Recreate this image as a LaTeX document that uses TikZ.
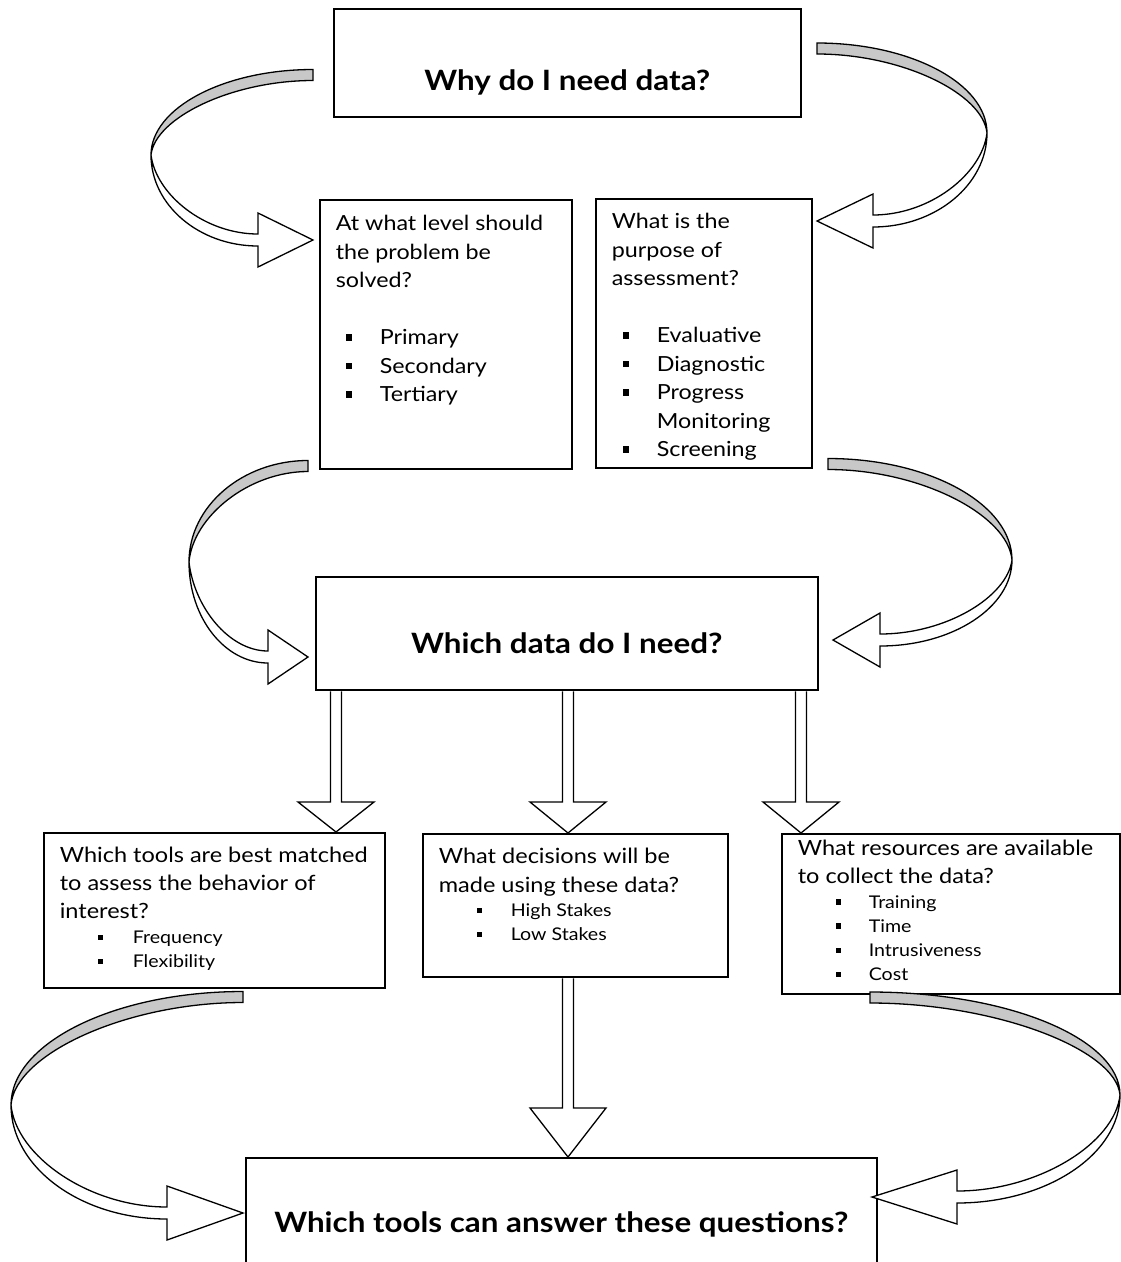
\documentclass[tikz,border=0pt]{standalone}
\usepackage{fontspec}
\setmainfont{Lato}[FakeStretch=1.12]
\usetikzlibrary{calc,positioning}
\definecolor{ribbongray}{RGB}{200,200,200}

% square bullet: indent, label width, item text
\newcommand{\bitem}[3]{\hspace*{#1}\makebox[#2][l]{\rule[0.2em]{0.3em}{0.3em}}#3}
% straight block arrow from #1 down to #2, head length #3
\newcommand{\blockdown}[3]{%
  \draw[blockarrow] let \p1=(#1), \p2=(#2) in
    (\x1-5.5pt,\y1-0.8pt) -- (\x1-5.5pt,\y2+#3) -- (\x1-38pt,\y2+#3) -- (\x1,\y2)
    -- (\x1+38pt,\y2+#3) -- (\x1+5.5pt,\y2+#3) -- (\x1+5.5pt,\y1-0.8pt);}

\tikzset{
  pics/ribbon/.style n args={5}{code={
    % tail (#1 right, #2 up), tip (#3 right, #4 down), head length #5
    \filldraw[fill=ribbongray,line width=1.3pt] (#1,-#2-5.5) .. controls ({0.45*#1},-#2-5.5) and (0,{-0.55*(#2+5.5)}) .. (0,0)
      .. controls (4,{-0.5*(#2-5.5)}) and ({0.5*#1},-#2+5.5) .. (#1,-#2+5.5) -- cycle;
    \filldraw[fill=white,line width=1.3pt] (0,0) .. controls (0,{0.55*(#4+6)}) and ({0.45*(#3-#5)},#4+6) .. (#3-#5,#4+6)
      -- (#3-#5,#4+27) -- (#3,#4) -- (#3-#5,#4-27) -- (#3-#5,#4-6)
      .. controls ({0.5*(#3-#5)},#4-6) and (5,{0.5*(#4-6)}) .. (0,0) -- cycle;
  }}
}

\begin{document}
\begin{tikzpicture}[x=1pt,y=-1pt]
  \tikzset{
    frame/.style={draw,line width=1.6pt,anchor=north west,inner sep=0pt},
    title/.style={frame,font=\fontsize{28}{32}\selectfont\bfseries},
    quest/.style={frame,inner xsep=16pt,inner ysep=0pt,align=left},
    blockarrow/.style={draw,fill=white,line width=1.3pt}
  }
  \useasboundingbox (0,0) rectangle (1121,1262);

  % boxes
  \node[title,minimum width=467pt,minimum height=108pt,text height=82pt,text depth=26pt] (why) at (333,8) {Why do I need data?};
  \node[quest] (level) at (319,199) {\begin{minipage}[c][269pt][t]{220pt}\fontsize{20.8}{28.5}\selectfont\raggedright
    \rule{0pt}{31pt}At what level should\\
    the problem be\\
    solved?\\[28.5pt]
    \bitem{10pt}{34pt}{Primary}\\
    \bitem{10pt}{34pt}{Secondary}\\
    \bitem{10pt}{34pt}{Tertiary}
  \end{minipage}};
  \node[quest] (purpose) at (595,198) {\begin{minipage}[c][269pt][t]{184pt}\fontsize{20.8}{28.5}\selectfont\raggedright
    \rule{0pt}{30pt}What is the\\
    purpose of\\
    assessment?\\[28.5pt]
    \bitem{11pt}{34pt}{Evaluative}\\
    \bitem{11pt}{34pt}{Diagnostic}\\
    \bitem{11pt}{34pt}{Progress}\\
    \hspace*{45pt}Monitoring\\
    \bitem{11pt}{34pt}{Screening}
  \end{minipage}};
  \node[title,minimum width=502pt,minimum height=113pt,text height=77pt,text depth=36pt] (need) at (315,576) {Which data do I need?};
  \node[quest] (tools) at (43,832) {\begin{minipage}[c][155pt][t]{309pt}\fontsize{21}{28}\selectfont\raggedright
    \rule{0pt}{30pt}Which tools are best matched\\
    to assess the behavior of\\
    interest?\par
    \fontsize{17.5}{24.5}\selectfont
    \bitem{38pt}{35pt}{Frequency}\\
    \bitem{38pt}{35pt}{Flexibility}
  \end{minipage}};
  \node[quest] (decide) at (422,833) {\begin{minipage}[c][143pt][t]{273pt}\fontsize{21}{29}\selectfont\raggedright
    \rule{0pt}{30pt}What decisions will be\\
    made using these data?\par
    \fontsize{17.5}{24}\selectfont
    \bitem{38pt}{34pt}{High Stakes}\\
    \bitem{38pt}{34pt}{Low Stakes}
  \end{minipage}};
  \node[quest] (resources) at (781,833) {\begin{minipage}[c][160pt][t]{306pt}\fontsize{21}{28}\selectfont\raggedright
    \rule{0pt}{22pt}What resources are available\\
    to collect the data?\par
    \fontsize{17.5}{24.2}\selectfont
    \bitem{38pt}{33pt}{Training}\\
    \bitem{38pt}{33pt}{Time}\\
    \bitem{38pt}{33pt}{Intrusiveness}\\
    \bitem{38pt}{33pt}{Cost}
  \end{minipage}};
  \node[title,minimum width=631pt,minimum height=123pt,text height=75pt,text depth=48pt] (final) at (245,1157) {Which tools can answer these questions?};

  % curved ribbon arrows
  \path (151,155) pic {ribbon={162}{80}{162}{85}{55}};
  \path (987,133) pic[xscale=-1] {ribbon={170}{84.5}{170}{88}{56}};
  \path (189,562) pic {ribbon={119}{96}{119}{95}{40}};
  \path (1012,560) pic[xscale=-1] {ribbon={184}{96}{179}{80}{47}};
  \path (11,1105) pic {ribbon={232}{108}{232}{108}{76}};
  \path (1120,1095) pic[xscale=-1] {ribbon={250}{97.5}{248}{102}{85}};

  % straight block arrows
  \coordinate (d1) at (336,0);
  \coordinate (d2) at (568,0);
  \coordinate (d3) at (801,0);
  \blockdown{need.south -| d1}{tools.north -| d1}{30pt}
  \blockdown{need.south -| d2}{decide.north -| d2}{31pt}
  \blockdown{need.south -| d3}{resources.north -| d3}{31pt}
  \blockdown{decide.south -| d2}{final.north -| d2}{49pt}
\end{tikzpicture}
\end{document}
